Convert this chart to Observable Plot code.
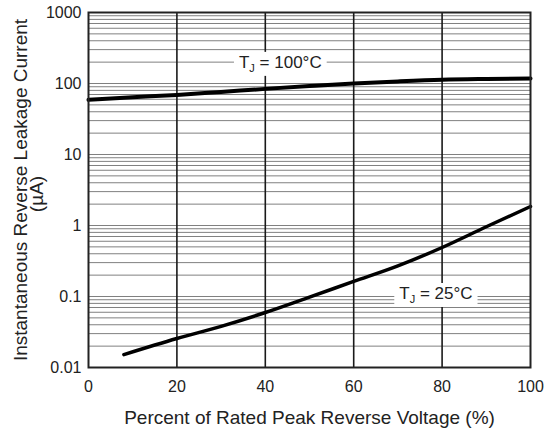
<!DOCTYPE html>
<html>
<head>
<meta charset="utf-8">
<script src="https://cdn.jsdelivr.net/npm/d3@7"></script>
<script src="https://cdn.jsdelivr.net/npm/@observablehq/plot@0.6"></script>
<style>
  html, body { margin: 0; padding: 0; background: #fff; }
  svg { display: block; }
</style>
</head>
<body>
<div id="chart"></div>
<script>
// ---- data ----
const xTicks = [0, 20, 40, 60, 80, 100];
const yTicks = [0.01, 0.1, 1, 10, 100, 1000];
const yTickLabels = ["0.01", "0.1", "1", "10", "100", "1000"];
const xGrid = [20, 40, 60, 80];

const hotX = [0, 10, 20, 30, 40, 50, 60, 70, 80, 90, 100];
const hotY = [59, 64, 69, 76, 84, 92, 100, 107, 113, 116, 118];

const coldX = [8, 20, 30, 40, 50, 60, 70, 80, 90, 100];
const coldY = [0.0152, 0.0256, 0.038, 0.0595, 0.098, 0.163, 0.27, 0.49, 0.96, 1.85];

const labelText = ["T_J = 100°C", "T_J = 25°C"];
const labelX = [43.4, 78.6];
const labelY = [198, 0.11];

const xTitle = "Percent of Rated Peak Reverse Voltage (%)";
const yTitle1 = "Instantaneous Reverse Leakage Current";
const yTitle2 = "(µA)";

// minor grid lines 1..9 x each decade
const minor = [];
for (let k = -2; k < 3; k++) for (let m = 1; m < 10; m++) {
  const v = m * Math.pow(10, k);
  if (v > 0.01 && v < 1000) minor.push(v);
}

const hot = hotX.map((x, i) => ({x, y: hotY[i]}));
const cold = coldX.map((x, i) => ({x, y: coldY[i]}));
const labels = labelText.map((t, i) => ({t, x: labelX[i], y: labelY[i]}));

const font = "'Liberation Sans', Arial, Helvetica, sans-serif";

const chart = Plot.plot({
  width: 551,
  height: 430,
  marginLeft: 88,
  marginRight: 21,
  marginTop: 12,
  marginBottom: 63,
  style: {fontFamily: font, fontSize: "16px", color: "#222", background: "#fff"},
  x: {domain: [0, 100]},
  y: {type: "log", domain: [0.01, 1000]},
  marks: [
    Plot.ruleY(minor, {stroke: "#808080", strokeWidth: 1}),
    Plot.ruleX(xGrid, {stroke: "#1a1a1a", strokeWidth: 1.6}),
    Plot.line(hot, {x: "x", y: "y", curve: "monotone-x", stroke: "#000", strokeWidth: 4}),
    Plot.line(cold, {x: "x", y: "y", curve: "monotone-x", stroke: "#000", strokeWidth: 3.5}),
    Plot.text(labels, {x: "x", y: "y", text: "t", fontSize: 17, fill: "#222"}),
    Plot.frame({stroke: "#222", strokeWidth: 2}),
    Plot.axisX({ticks: xTicks, tickSize: 0, tickPadding: 13, label: null, fontSize: 16}),
    Plot.axisY({ticks: yTicks, tickSize: 0, tickPadding: 7, label: null, fontSize: 16,
      tickFormat: d => yTickLabels[yTicks.indexOf(d)]}),
    Plot.text([xTitle], {frameAnchor: "bottom", dy: 50, lineAnchor: "middle", textAnchor: "middle", fontSize: 19, fill: "#222"}),
    Plot.text([yTitle1], {frameAnchor: "left", dx: -67.5, rotate: -90, lineAnchor: "middle", textAnchor: "middle", fontSize: 19, fill: "#222"}),
    Plot.text([yTitle2], {frameAnchor: "left", dx: -52, dy: 4, rotate: -90, lineAnchor: "middle", textAnchor: "middle", fontSize: 19, fill: "#222"})
  ]
});

document.getElementById("chart").appendChild(chart);

// subscript J and white boxes behind the temperature labels
d3.select(chart).selectAll("text")
  .filter(function() { return this.textContent.indexOf("_J") >= 0; })
  .each(function() {
    const t = d3.select(this);
    const parts = this.textContent.split("_J");
    t.text(null);
    t.append("tspan").text(parts[0]);
    t.append("tspan").attr("font-size", 11).attr("dy", 4).text("J");
    t.append("tspan").attr("dy", -4).text(parts[1]);
    const b = this.getBBox();
    const r = d3.create("svg:rect")
      .attr("x", b.x - 5).attr("y", b.y - 1)
      .attr("width", b.width + 10).attr("height", b.height + 3)
      .attr("fill", "#fff");
    const tr = this.getAttribute("transform");
    if (tr) r.attr("transform", tr);
    this.parentNode.insertBefore(r.node(), this);
  });
</script>
</body>
</html>
